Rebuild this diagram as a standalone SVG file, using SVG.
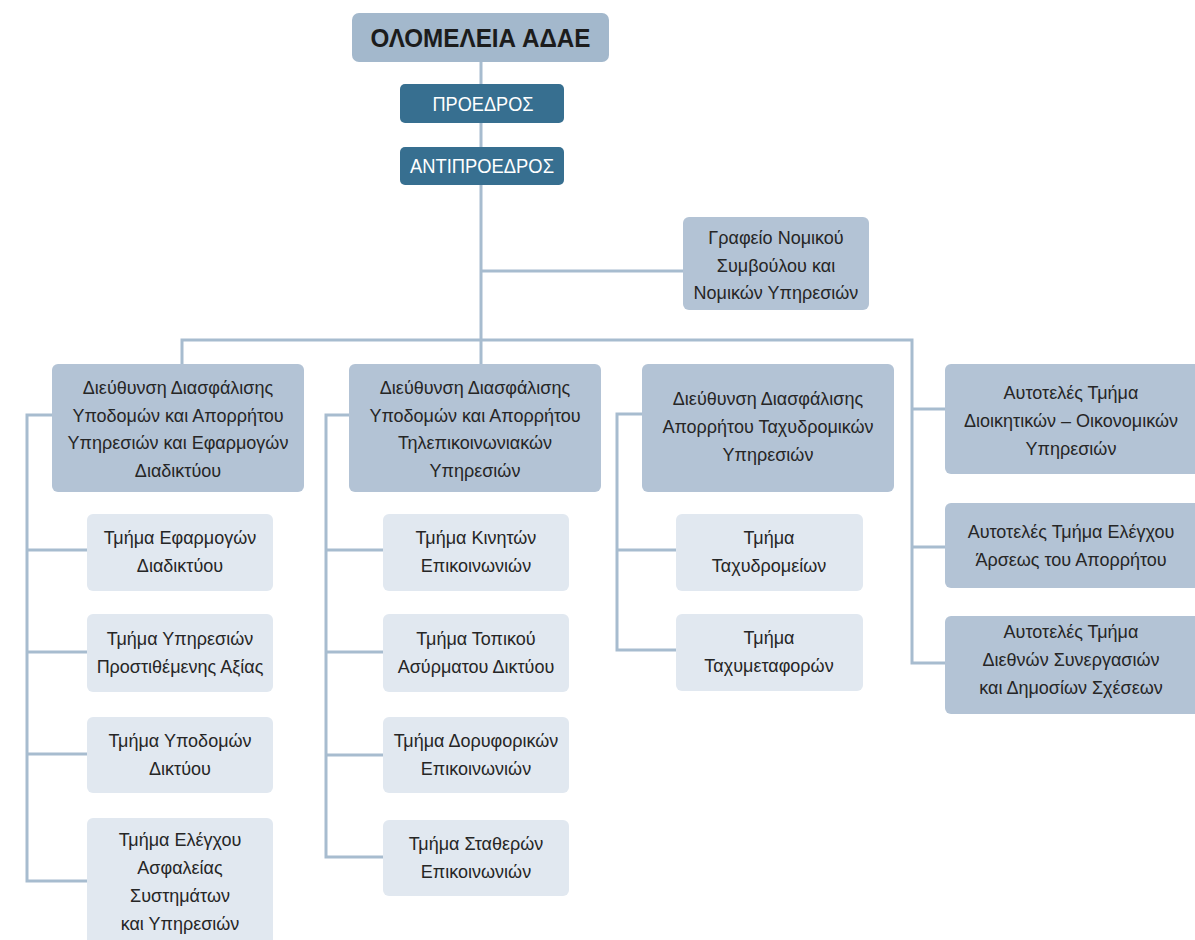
<svg xmlns="http://www.w3.org/2000/svg" width="1195" height="940" viewBox="0 0 1195 940">
<style>
.ln{fill:none;stroke:#a7bccf;stroke-width:3}
.top{fill:#a3b8cc}
.dk{fill:#376f90}
.dir{fill:#b3c3d5}
.sub{fill:#e1e8f0}
text{font-family:"Liberation Sans","DejaVu Sans",sans-serif;text-anchor:middle}
.t{font-size:18px;fill:#262626}
.w{font-size:20px;fill:#ffffff}
.h{font-size:25px;font-weight:bold;fill:#1c1c1c}
</style>
<rect width="1195" height="940" fill="#ffffff"/>
<g id="connectors">
<path class="ln" d="M481,62 V364"/>
<path class="ln" d="M481,271 H683"/>
<path class="ln" d="M182,364 V340 H912 V663 H945"/>
<path class="ln" d="M912,409 H945 M912,547 H945"/>
<path class="ln" d="M52,415 H27 V881 H87 M27,550 H87 M27,652 H87 M27,754 H87"/>
<path class="ln" d="M349,415 H326 V857 H383 M326,550 H383 M326,652 H383 M326,755 H383"/>
<path class="ln" d="M642,414 H617 V650 H676 M617,550 H676"/>
</g>
<g id="olomeleia"><rect class="top" x="352" y="13" width="257" height="49" rx="7"/><text class="h" x="480.5" y="47" textLength="220" lengthAdjust="spacingAndGlyphs">ΟΛΟΜΕΛΕΙΑ ΑΔΑΕ</text></g>
<g id="proedros"><rect class="dk" x="400" y="84" width="164" height="39" rx="5"/><text class="w" x="483" y="111" textLength="101" lengthAdjust="spacingAndGlyphs">ΠΡΟΕΔΡΟΣ</text></g>
<g id="antiproedros"><rect class="dk" x="400" y="147" width="164" height="38" rx="5"/><text class="w" x="482" y="173" textLength="144" lengthAdjust="spacingAndGlyphs">ΑΝΤΙΠΡΟΕΔΡΟΣ</text></g>
<g id="grafeio"><rect class="dir" x="683" y="217" width="186" height="93" rx="6"/><text class="t" x="776"><tspan x="776" y="244">Γραφείο Νομικού</tspan><tspan x="776" y="272">Συμβούλου και</tspan><tspan x="776" y="299">Νομικών Υπηρεσιών</tspan></text></g>
<g id="dir1"><rect class="dir" x="52" y="364" width="252" height="128" rx="6"/><text class="t"><tspan x="178" y="394">Διεύθυνση Διασφάλισης</tspan><tspan x="178" y="422">Υποδομών και Απορρήτου</tspan><tspan x="178" y="449">Υπηρεσιών και Εφαρμογών</tspan><tspan x="178" y="477">Διαδικτύου</tspan></text></g>
<g id="dir2"><rect class="dir" x="349" y="364" width="252" height="128" rx="6"/><text class="t"><tspan x="475" y="394">Διεύθυνση Διασφάλισης</tspan><tspan x="475" y="422">Υποδομών και Απορρήτου</tspan><tspan x="475" y="449">Τηλεπικοινωνιακών</tspan><tspan x="475" y="477">Υπηρεσιών</tspan></text></g>
<g id="dir3"><rect class="dir" x="642" y="364" width="252" height="128" rx="6"/><text class="t"><tspan x="768" y="405">Διεύθυνση Διασφάλισης</tspan><tspan x="768" y="433">Απορρήτου Ταχυδρομικών</tspan><tspan x="768" y="461">Υπηρεσιών</tspan></text></g>
<g id="aut1"><rect class="dir" x="945" y="364" width="256" height="110" rx="6"/><text class="t"><tspan x="1071" y="399">Αυτοτελές Τμήμα</tspan><tspan x="1071" y="427">Διοικητικών – Οικονομικών</tspan><tspan x="1071" y="455">Υπηρεσιών</tspan></text></g>
<g id="aut2"><rect class="dir" x="945" y="503" width="256" height="85" rx="6"/><text class="t"><tspan x="1071" y="538">Αυτοτελές Τμήμα Ελέγχου</tspan><tspan x="1071" y="566">Άρσεως του Απορρήτου</tspan></text></g>
<g id="aut3"><rect class="dir" x="945" y="616" width="256" height="98" rx="6"/><text class="t"><tspan x="1071" y="638">Αυτοτελές Τμήμα</tspan><tspan x="1071" y="666">Διεθνών Συνεργασιών</tspan><tspan x="1071" y="694">και Δημοσίων Σχέσεων</tspan></text></g>
<g id="s1a"><rect class="sub" x="87" y="514" width="186" height="77" rx="6"/><text class="t"><tspan x="180" y="544">Τμήμα Εφαρμογών</tspan><tspan x="180" y="572">Διαδικτύου</tspan></text></g>
<g id="s1b"><rect class="sub" x="87" y="614" width="186" height="78" rx="6"/><text class="t"><tspan x="180" y="645">Τμήμα Υπηρεσιών</tspan><tspan x="180" y="673">Προστιθέμενης Αξίας</tspan></text></g>
<g id="s1c"><rect class="sub" x="87" y="717" width="186" height="76" rx="6"/><text class="t"><tspan x="180" y="747">Τμήμα Υποδομών</tspan><tspan x="180" y="775">Δικτύου</tspan></text></g>
<g id="s1d"><rect class="sub" x="87" y="818" width="186" height="140" rx="6"/><text class="t"><tspan x="180" y="846">Τμήμα Ελέγχου</tspan><tspan x="180" y="874">Ασφαλείας</tspan><tspan x="180" y="902">Συστημάτων</tspan><tspan x="180" y="930">και Υπηρεσιών</tspan></text></g>
<g id="s2a"><rect class="sub" x="383" y="514" width="186" height="77" rx="6"/><text class="t"><tspan x="476" y="544">Τμήμα Κινητών</tspan><tspan x="476" y="572">Επικοινωνιών</tspan></text></g>
<g id="s2b"><rect class="sub" x="383" y="614" width="186" height="78" rx="6"/><text class="t"><tspan x="476" y="645">Τμήμα Τοπικού</tspan><tspan x="476" y="673">Ασύρματου Δικτύου</tspan></text></g>
<g id="s2c"><rect class="sub" x="383" y="717" width="186" height="76" rx="6"/><text class="t"><tspan x="476" y="747">Τμήμα Δορυφορικών</tspan><tspan x="476" y="775">Επικοινωνιών</tspan></text></g>
<g id="s2d"><rect class="sub" x="383" y="820" width="186" height="76" rx="6"/><text class="t"><tspan x="476" y="850">Τμήμα Σταθερών</tspan><tspan x="476" y="878">Επικοινωνιών</tspan></text></g>
<g id="s3a"><rect class="sub" x="676" y="514" width="187" height="77" rx="6"/><text class="t"><tspan x="769" y="544">Τμήμα</tspan><tspan x="769" y="572">Ταχυδρομείων</tspan></text></g>
<g id="s3b"><rect class="sub" x="676" y="614" width="187" height="77" rx="6"/><text class="t"><tspan x="769" y="644">Τμήμα</tspan><tspan x="769" y="672">Ταχυμεταφορών</tspan></text></g>
</svg>
